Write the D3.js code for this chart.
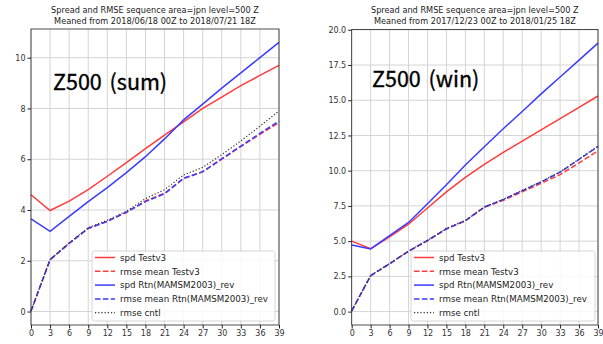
<!DOCTYPE html>
<html>
<head>
<meta charset="utf-8">
<script src="https://cdn.jsdelivr.net/npm/d3@7"></script>
<style>
  body { margin: 0; background: #fff; }
  svg text { font-family: "DejaVu Sans", sans-serif; }
</style>
</head>
<body>
<div id="chart"></div>
<script>
// forecast time (h)
var steps = [0, 3, 6, 9, 12, 15, 18, 21, 24, 27, 30, 33, 36, 39];

// summer panel
var sumSpdTest  = [4.6, 3.98, 4.35, 4.8, 5.33, 5.87, 6.42, 6.95, 7.47, 8.0, 8.45, 8.9, 9.3, 9.7];
var sumRmseTest = [0.02, 2.05, 2.7, 3.27, 3.56, 3.9, 4.36, 4.66, 5.24, 5.5, 6.0, 6.5, 6.98, 7.44];
var sumSpdRtn   = [3.65, 3.16, 3.75, 4.33, 4.88, 5.47, 6.1, 6.8, 7.55, 8.17, 8.8, 9.4, 10.0, 10.6];
var sumRmseRtn  = [0.02, 2.04, 2.68, 3.28, 3.55, 3.92, 4.33, 4.64, 5.25, 5.51, 6.02, 6.52, 7.02, 7.5];
var sumRmseCntl = [0.02, 2.05, 2.7, 3.3, 3.6, 3.95, 4.45, 4.8, 5.38, 5.68, 6.18, 6.72, 7.3, 7.9];

// winter panel
var winSpdTest  = [5.0, 4.46, 5.3, 6.2, 7.35, 8.5, 9.52, 10.45, 11.3, 12.1, 12.9, 13.7, 14.5, 15.3];
var winRmseTest = [0.05, 2.55, 3.4, 4.28, 5.03, 5.86, 6.45, 7.4, 7.9, 8.5, 9.1, 9.72, 10.55, 11.4];
var winSpdRtn   = [4.72, 4.45, 5.4, 6.33, 7.65, 9.0, 10.4, 11.7, 12.98, 14.2, 15.45, 16.65, 17.85, 19.05];
var winRmseRtn  = [0.05, 2.55, 3.4, 4.28, 5.05, 5.88, 6.45, 7.42, 7.95, 8.58, 9.2, 9.9, 10.8, 11.72];
var winRmseCntl = [0.05, 2.56, 3.41, 4.3, 5.05, 5.9, 6.47, 7.43, 7.97, 8.6, 9.22, 9.92, 10.82, 11.75];

var seriesNames = ["spd Testv3", "rmse mean Testv3", "spd Rtn(MAMSM2003)_rev",
                   "rmse mean Rtn(MAMSM2003)_rev", "rmse cntl"];

var sumTicks = [0, 2, 4, 6, 8, 10];
var winTicks = [0, 2.5, 5, 7.5, 10, 12.5, 15, 17.5, 20];

var styles = [
  {color: "#ff3b3b", dash: null, w: 1.5},
  {color: "#ff3b3b", dash: "5.5,2.4", w: 1.5},
  {color: "#3b3bff", dash: null, w: 1.5},
  {color: "#3b3bff", dash: "5.5,2.4", w: 1.5},
  {color: "#333", dash: "1.2,2", w: 1.2}
];

var svg = d3.select("#chart")
  .append("svg")
    .attr("width", 603)
    .attr("height", 344);

function drawPanel(p) {
  var x = d3.scaleLinear().domain([0, 39]).range([p.left, p.right]);
  var y = d3.scaleLinear().domain(p.ydom).range([325, p.top]);
  var g = svg.append("g");

  // grid
  g.selectAll(".vg").data(steps).enter().append("line")
    .attr("x1", d => x(d)).attr("x2", d => x(d))
    .attr("y1", p.top).attr("y2", 325)
    .style("stroke", "#d4d4d4").style("stroke-width", 1);
  g.selectAll(".hg").data(p.ticks).enter().append("line")
    .attr("x1", p.left).attr("x2", p.right)
    .attr("y1", d => y(d)).attr("y2", d => y(d))
    .style("stroke", "#d4d4d4").style("stroke-width", 1);

  // lines
  var line = d3.line().x((d, i) => x(steps[i])).y(d => y(d));
  p.series.forEach(function(s, i) {
    g.append("path")
      .attr("d", line(s))
      .style("fill", "none")
      .style("stroke", styles[i].color)
      .style("stroke-width", styles[i].w)
      .style("stroke-dasharray", styles[i].dash);
  });

  // frame
  g.append("rect")
    .attr("x", p.left).attr("y", p.top)
    .attr("width", p.right - p.left).attr("height", 325 - p.top)
    .style("fill", "none").style("stroke", "#222").style("stroke-width", 0.8);

  var ax = g.append("g")
    .attr("transform", "translate(0,325)")
    .call(d3.axisBottom(x).tickValues(steps).tickSize(3.5).tickPadding(2));
  var ay = g.append("g")
    .attr("transform", "translate(" + p.left + ",0)")
    .call(d3.axisLeft(y).tickValues(p.ticks).tickSize(3.5).tickPadding(2).tickFormat(d3.format(p.fmt)));
  [ax, ay].forEach(function(a) {
    a.select(".domain").remove();
    a.selectAll("text").attr("font-size", "8px").attr("fill", "#333")
      .style("font-family", "DejaVu Sans");
    a.selectAll("line").style("stroke", "#222");
  });

  // title
  var cx = (p.left + p.right) / 2;
  g.append("text").attr("x", cx).attr("y", 13).attr("text-anchor", "middle")
    .attr("font-size", "8.2px").attr("fill", "#222")
    .text("Spread and RMSE sequence area=jpn level=500 Z");
  g.append("text").attr("x", cx).attr("y", 24).attr("text-anchor", "middle")
    .attr("font-size", "8.2px").attr("fill", "#222")
    .text(p.period);

  // big label
  var lab = g.append("text").attr("x", p.labelX).attr("y", p.labelY)
    .attr("font-size", "21.5px").attr("fill", "#000")
    .style("stroke", "#000").style("stroke-width", 0.35)
    .style("font-family", "Noto Sans CJK JP");
  lab.append("tspan").text(p.label[0]);
  lab.append("tspan").attr("dx", 3).text(" " + p.label[1]);

  // legend
  var lg = g.append("g");
  lg.append("rect")
    .attr("x", p.legX).attr("y", 251).attr("width", p.legW).attr("height", 70)
    .attr("rx", 2.5)
    .style("fill", "#fff").style("fill-opacity", 0.85)
    .style("stroke", "#ccc").style("stroke-width", 0.8);
  seriesNames.forEach(function(n, i) {
    var yy = 257.5 + i * 13.8;
    lg.append("line")
      .attr("x1", p.legX + 3).attr("x2", p.legX + 23)
      .attr("y1", yy).attr("y2", yy)
      .style("stroke", styles[i].color)
      .style("stroke-width", styles[i].w)
      .style("stroke-dasharray", styles[i].dash);
    lg.append("text")
      .attr("x", p.legX + 28).attr("y", yy + 3.2)
      .attr("font-size", "8.7px").attr("fill", "#222")
      .text(n);
  });
}

drawPanel({
  left: 31, right: 279, top: 29,
  ydom: [-0.53, 11.13], ticks: sumTicks, fmt: "d",
  series: [sumSpdTest, sumRmseTest, sumSpdRtn, sumRmseRtn, sumRmseCntl],
  period: "Meaned from 2018/06/18 00Z to 2018/07/21 18Z",
  label: ["Z500", "(sum)"], labelX: 53, labelY: 90,
  legX: 92, legW: 183
});

drawPanel({
  left: 351.7, right: 598, top: 29.5,
  ydom: [-0.95, 20.02], ticks: winTicks, fmt: ".1f",
  series: [winSpdTest, winRmseTest, winSpdRtn, winRmseRtn, winRmseCntl],
  period: "Meaned from 2017/12/23 00Z to 2018/01/25 18Z",
  label: ["Z500", "(win)"], labelX: 372, labelY: 87,
  legX: 411, legW: 184
});
</script>
</body>
</html>
